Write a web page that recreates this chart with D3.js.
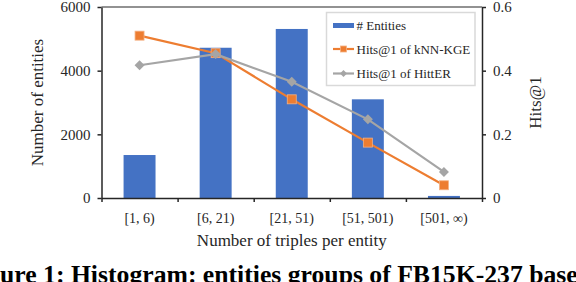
<!DOCTYPE html>
<html>
<head>
<meta charset="utf-8">
<script src="https://cdn.jsdelivr.net/npm/d3@7"></script>
<style>
  html, body { margin: 0; padding: 0; background: #fff; }
  svg { display: block; font-family: 'Liberation Serif', 'DejaVu Serif', serif; }
  .axis path, .axis line { stroke: #262626; stroke-width: 1.5; }
  .axis text { fill: #262626; }
</style>
</head>
<body>
<svg id="chart" width="576" height="282"></svg>
<script>
const categories = ['[1, 6)', '[6, 21)', '[21, 51)', '[51, 501)', '[501, \u221E)'];
const entityCounts = [1350, 4720, 5310, 3100, 65];
const hitsKnnKge = [0.51, 0.455, 0.31, 0.174, 0.04];
const hitsHitter = [0.417, 0.452, 0.365, 0.247, 0.082];
const leftTicks = [0, 2000, 4000, 6000];
const rightTicks = [0, 0.2, 0.4, 0.6];

const FONT = 'Liberation Serif';
const svg = d3.select('#chart');
const plot = { left: 101.5, right: 482, top: 7, bottom: 198 };

const x = d3.scaleBand()
  .domain(categories)
  .range([plot.left, plot.right])
  .paddingInner(0.58)
  .paddingOuter(0.29);
const xEdges = d3.scaleLinear().domain([0, categories.length]).range([plot.left, plot.right]);
const yLeft = d3.scaleLinear().domain([0, 6000]).range([plot.bottom, plot.top]);
const yRight = d3.scaleLinear().domain([0, 0.6]).range([plot.bottom, plot.top]);
const cx = (c) => x(c) + x.bandwidth() / 2;

// bars
svg.append('g')
  .selectAll('rect')
  .data(categories)
  .join('rect')
  .attr('x', (d) => x(d))
  .attr('y', (d, i) => yLeft(entityCounts[i]))
  .attr('width', x.bandwidth())
  .attr('height', (d, i) => plot.bottom - yLeft(entityCounts[i]))
  .attr('fill', '#4472C4');

// top border
svg.append('line')
  .attr('x1', plot.left).attr('x2', plot.right)
  .attr('y1', plot.top).attr('y2', plot.top)
  .attr('stroke', '#262626').attr('stroke-width', 1.2);

// axes
svg.append('g')
  .attr('class', 'axis')
  .attr('transform', `translate(${plot.left},0)`)
  .attr('font-family', FONT)
  .call(d3.axisLeft(yLeft).tickValues(leftTicks).tickFormat(d3.format('d')).tickSize(4).tickPadding(7).tickSizeOuter(0))
  .call((g) => g.attr('font-family', FONT).selectAll('text').attr('font-size', 15));

svg.append('g')
  .attr('class', 'axis')
  .attr('transform', `translate(${plot.right},0)`)
  .call(d3.axisRight(yRight).tickValues(rightTicks).tickFormat((d) => (d === 0 ? '0' : d3.format('.1f')(d))).tickSize(4).tickPadding(7).tickSizeOuter(0))
  .call((g) => g.attr('font-family', FONT).selectAll('text').attr('font-size', 15));

svg.append('g')
  .attr('class', 'axis')
  .attr('transform', `translate(0,${plot.bottom})`)
  .call(d3.axisBottom(xEdges).tickValues(d3.range(categories.length + 1)).tickFormat('').tickSize(4).tickSizeOuter(0));

svg.append('g')
  .attr('class', 'axis')
  .attr('transform', `translate(0,${plot.bottom})`)
  .call(d3.axisBottom(x).tickSize(0).tickPadding(15))
  .call((g) => g.select('.domain').remove())
  .call((g) => g.attr('font-family', FONT).selectAll('text').attr('font-size', 14));

// axis titles
svg.append('text')
  .attr('x', (plot.left + plot.right) / 2)
  .attr('y', 245.5)
  .attr('text-anchor', 'middle')
  .attr('font-size', 17)
  .attr('fill', '#262626')
  .text('Number of triples per entity');

svg.append('text')
  .attr('transform', `translate(43,${(plot.top + plot.bottom) / 2}) rotate(-90)`)
  .attr('text-anchor', 'middle')
  .attr('font-size', 17)
  .attr('fill', '#262626')
  .text('Number of entities');

svg.append('text')
  .attr('transform', `translate(541,${(plot.top + plot.bottom) / 2}) rotate(-90)`)
  .attr('text-anchor', 'middle')
  .attr('font-size', 17)
  .attr('fill', '#262626')
  .text('Hits@1');

// lines
const series = [
  { name: 'Hits@1 of kNN-KGE', values: hitsKnnKge, color: '#ED7D31', marker: 'square' },
  { name: 'Hits@1 of HittER', values: hitsHitter, color: '#A5A5A5', marker: 'diamond' },
];

function drawMarker(g, type, px, py, size, color) {
  if (type === 'square') {
    g.append('rect')
      .attr('x', px - size / 2).attr('y', py - size / 2)
      .attr('width', size).attr('height', size)
      .attr('fill', color).attr('stroke', '#F4B183').attr('stroke-width', 0.8);
  } else {
    const r = size / 2 + 0.5;
    g.append('path')
      .attr('d', `M${px},${py - r}L${px + r},${py}L${px},${py + r}L${px - r},${py}Z`)
      .attr('fill', color);
  }
}

series.forEach((s) => {
  const line = d3.line()
    .x((d, i) => cx(categories[i]))
    .y((d) => yRight(d));
  const g = svg.append('g');
  g.append('path')
    .datum(s.values)
    .attr('d', line)
    .attr('fill', 'none')
    .attr('stroke', s.color)
    .attr('stroke-width', 2.2);
  s.values.forEach((v, i) => drawMarker(g, s.marker, cx(categories[i]), yRight(v), 9, s.color));
});

// legend
const legend = svg.append('g').attr('font-family', FONT);
legend.append('rect')
  .attr('x', 326.5).attr('y', 12.5)
  .attr('width', 148.5).attr('height', 73)
  .attr('fill', '#fff')
  .attr('stroke', '#D9D9D9').attr('stroke-width', 1.5);

const legendRows = [25.5, 49, 73.5];
legend.append('rect')
  .attr('x', 333).attr('y', legendRows[0] - 2.5)
  .attr('width', 21).attr('height', 5)
  .attr('fill', '#4472C4');
series.forEach((s, i) => {
  const ly = legendRows[i + 1];
  legend.append('line')
    .attr('x1', 333).attr('x2', 354)
    .attr('y1', ly).attr('y2', ly)
    .attr('stroke', s.color).attr('stroke-width', 2.2);
  drawMarker(legend, s.marker, 343.5, ly, 6, s.color);
});
const legendNames = ['# Entities'].concat(series.map((s) => s.name));
legendNames.forEach((name, i) => {
  legend.append('text')
    .attr('x', 356.5)
    .attr('y', legendRows[i])
    .attr('dy', '0.35em')
    .attr('font-size', 13)
    .attr('fill', '#262626')
    .text(name);
});

// caption, cropped on both sides as in the original
const captionText = 'Figure 1: Histogram: entities groups of FB15K-237 based';
const caption = svg.append('text')
  .attr('y', 282.5)
  .attr('font-size', 25)
  .attr('font-weight', 'bold')
  .attr('fill', '#000')
  .text(captionText);
const node = caption.node();
const uIdx = captionText.indexOf('ure');
const eIdx = captionText.lastIndexOf('e');
const span = node.getEndPositionOfChar(eIdx).x - node.getStartPositionOfChar(uIdx).x;
caption.attr('font-size', 25 * 578 / span);
caption.attr('x', -node.getStartPositionOfChar(uIdx).x);
</script>
</body>
</html>
